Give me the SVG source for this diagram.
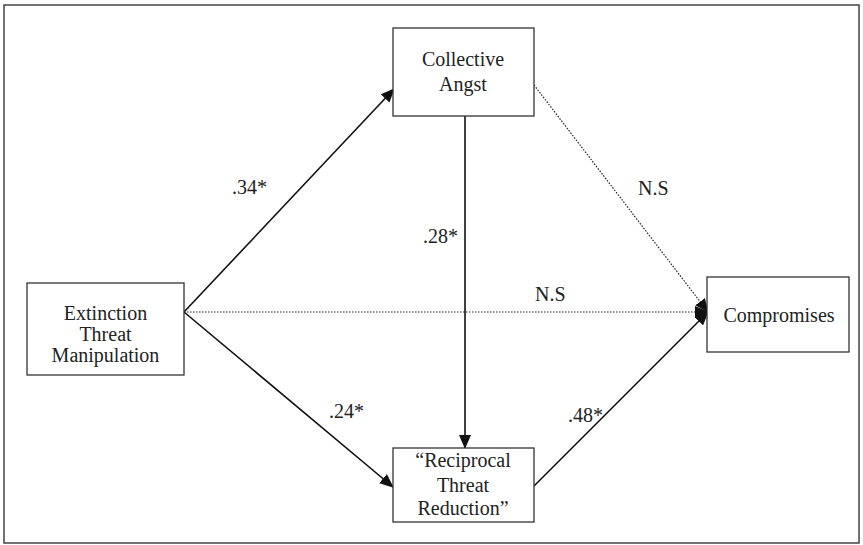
<svg xmlns="http://www.w3.org/2000/svg" width="863" height="545" viewBox="0 0 863 545">
<defs>
<style>
.box{fill:#fff;stroke:#333;stroke-width:1.3}
.t{font-family:"Liberation Serif","Times New Roman",serif;font-size:20px;fill:#222;text-anchor:middle}
.l{font-family:"Liberation Serif","Times New Roman",serif;font-size:20px;fill:#222}
.solid{stroke:#111;stroke-width:1.6;fill:none}
.dot{stroke:#222;stroke-width:1.2;stroke-dasharray:1.5 1.5;fill:none}
</style>
<marker id="ah" markerUnits="userSpaceOnUse" markerWidth="14" markerHeight="12" refX="13" refY="6" orient="auto">
<path d="M0,0 L14,6 L0,12 Z" fill="#111"/>
</marker>
</defs>
<rect x="4" y="5" width="855" height="538" fill="#fff" stroke="#444" stroke-width="1.5"/>
<g id="connectors">
<line class="solid" x1="184" y1="312" x2="394" y2="89" marker-end="url(#ah)"/>
<line class="solid" x1="184" y1="312" x2="393" y2="487" marker-end="url(#ah)"/>
<line class="dot" x1="184" y1="312" x2="708" y2="312" marker-end="url(#ah)"/>
<line class="solid" x1="465" y1="116" x2="465" y2="448" marker-end="url(#ah)"/>
<line class="dot" x1="534" y1="85" x2="708" y2="312" marker-end="url(#ah)"/>
<line class="solid" x1="534" y1="486" x2="708" y2="312" marker-end="url(#ah)"/>
</g>
<g id="labels">
<text class="l" x="232" y="194">.34*</text>
<text class="l" x="423" y="243">.28*</text>
<text class="l" x="638" y="195">N.S</text>
<text class="l" x="535" y="301">N.S</text>
<text class="l" x="329" y="418">.24*</text>
<text class="l" x="568" y="422">.48*</text>
</g>
<g id="collective">
<rect class="box" x="393" y="28" width="141" height="88"/>
<text class="t" x="463" y="66">Collective</text>
<text class="t" x="463" y="91">Angst</text>
</g>
<g id="extinction">
<rect class="box" x="27" y="283" width="157" height="92"/>
<text class="t" x="105.5" y="320">Extinction</text>
<text class="t" x="105.5" y="341">Threat</text>
<text class="t" x="105.5" y="362">Manipulation</text>
</g>
<g id="compromises">
<rect class="box" x="707" y="277" width="142" height="75"/>
<text class="t" x="779" y="322">Compromises</text>
</g>
<g id="reciprocal">
<rect class="box" x="393" y="448" width="141" height="74"/>
<text class="t" x="463" y="467">“Reciprocal</text>
<text class="t" x="463" y="492">Threat</text>
<text class="t" x="463" y="515">Reduction”</text>
</g>
</svg>
